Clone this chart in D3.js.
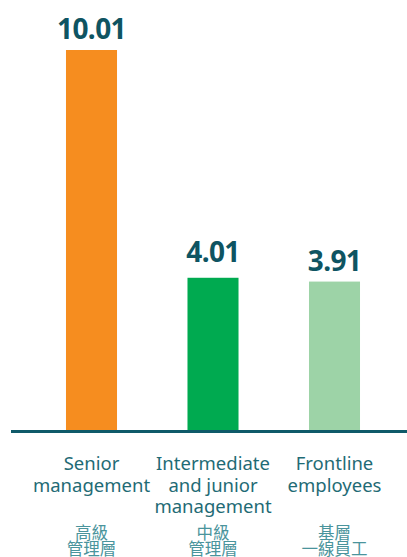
<!DOCTYPE html>
<html>
<head>
<meta charset="utf-8">
<script src="https://cdn.jsdelivr.net/npm/d3@7"></script>
<style>
  body { margin: 0; background: #fff; }
  svg text { font-family: "Noto Sans", "Noto Sans CJK TC", sans-serif; }
</style>
</head>
<body>
<div id="container"></div>
<script>
/* DATA */
const categories = ["Senior", "Intermediate", "Frontline"];
const values = [10.01, 4.01, 3.91];
const valueLabels = ["10.01", "4.01", "3.91"];
const englishLabels = [
  ["Senior", "management"],
  ["Intermediate", "and junior", "management"],
  ["Frontline", "employees"]
];
const chineseLabels = [
  ["高級", "管理層"],
  ["中級", "管理層"],
  ["基層", "一線員工"]
];
const colors = ["#f68d1f", "#00aa50", "#9dd3a7"];

/* CONSTANTS */
const width = 407, height = 557;
const baseline = 430;

const svg = d3.select("#container").append("svg")
  .attr("width", width)
  .attr("height", height);

// scales
const xScale = d3.scaleBand()
  .domain(categories)
  .range([30.75, 395.25])
  .paddingInner(0.58)
  .paddingOuter(0.29);

const yScale = d3.scaleLinear()
  .domain([0, 10.01])
  .range([baseline, 50]);

// bars
svg.selectAll("rect.bar")
  .data(values)
  .join("rect")
  .attr("class", "bar")
  .attr("x", (d, i) => xScale(categories[i]))
  .attr("width", xScale.bandwidth())
  .attr("y", d => yScale(d))
  .attr("height", d => baseline - yScale(d))
  .attr("fill", (d, i) => colors[i]);

// value labels
svg.selectAll("text.value")
  .data(values)
  .join("text")
  .attr("class", "value")
  .attr("x", (d, i) => xScale(categories[i]) + xScale.bandwidth() / 2)
  .attr("y", (d, i) => yScale(d) - (i === 1 ? 16 : 11))
  .attr("text-anchor", "middle")
  .attr("font-size", 28)
  .attr("font-weight", 700)
  .attr("letter-spacing", -0.6)
  .attr("fill", "#0e5462")
  .text((d, i) => valueLabels[i]);

// baseline
svg.append("line")
  .attr("x1", 11)
  .attr("x2", width)
  .attr("y1", baseline + 1.5)
  .attr("y2", baseline + 1.5)
  .attr("stroke", "#0f5a69")
  .attr("stroke-width", 3);

// category labels (english)
const enGroups = svg.selectAll("text.en")
  .data(englishLabels)
  .join("text")
  .attr("class", "en")
  .attr("text-anchor", "middle")
  .attr("font-size", 18.5)
  .attr("fill", "#1f6b75");

enGroups.selectAll("tspan")
  .data((d, i) => d.map(t => ({t, i})))
  .join("tspan")
  .attr("x", d => xScale(categories[d.i]) + xScale.bandwidth() / 2)
  .attr("y", (d, j) => 470 + j * 21.6)
  .text(d => d.t);

// category labels (chinese)
const zhGroups = svg.selectAll("text.zh")
  .data(chineseLabels)
  .join("text")
  .attr("class", "zh")
  .attr("text-anchor", "middle")
  .attr("font-size", 16.5)
  .attr("fill", "#4a949c")
  .style("font-family", '"Noto Sans CJK TC", sans-serif');

zhGroups.selectAll("tspan")
  .data((d, i) => d.map(t => ({t, i})))
  .join("tspan")
  .attr("x", d => xScale(categories[d.i]) + xScale.bandwidth() / 2)
  .attr("y", (d, j) => 538.5 + j * 16)
  .text(d => d.t);
</script>
</body>
</html>
